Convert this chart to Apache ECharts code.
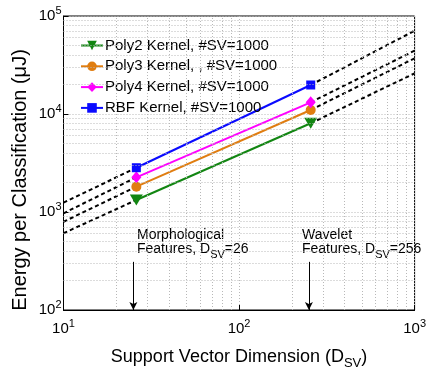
<!DOCTYPE html>
<html>
<head>
<meta charset="utf-8">
<script src="https://cdn.jsdelivr.net/npm/echarts@6/dist/echarts.min.js"></script>
<style>
html,body{margin:0;padding:0;background:#fff;}
#chart{width:429px;height:376px;}
</style>
</head>
<body>
<div id="chart"></div>
<script>
// ---- data ----
const dims = [26, 256];                 // support vector dimensions of the two feature sets
const seriesNames = ['Poly2 Kernel, #SV=1000', 'Poly3 Kernel, , #SV=1000', 'Poly4 Kernel, #SV=1000', 'RBF Kernel, #SV=1000'];
const poly2 = [1326, 8040];
const poly3 = [1813, 10990];
const poly4 = [2260, 13160];
const rbf   = [2830, 19770];
// dashed extrapolation end points (x = 10 and x = 1000)
const extX = [10, 1000];
const extLeft  = [607, 795, 970, 1245];      // poly2, poly3, poly4, rbf at x=10
const extRight = [26000, 37000, 44300, 70800]; // poly2, poly3, poly4, rbf at x=1000
// minor grid values
const xMinorGrid = [20,30,40,50,60,70,80,90,200,300,400,500,600,700,800,900];
const yMinorGrid = [200,300,400,500,600,700,800,900,2000,3000,4000,5000,6000,7000,8000,9000,20000,30000,40000,50000,60000,70000,80000,90000];
// annotation arrows
const arrowX = [25, 250];
const arrowTop = 310, arrowBottom = 100;

const FONT = 'Liberation Sans, Arial, Helvetica, sans-serif';
const colors = ['#128612', '#e07d10', '#ff00ff', '#0a0aff'];
const symbols = ['triangle', 'circle', 'diamond', 'rect'];
const symbolSizes = [[13, 11], 10, [10, 12], 9];
const symbolRotates = [180, 0, 0, 0];
const values = [poly2, poly3, poly4, rbf];

const gridLine = {color: '#b8b8b8', type: [1, 2], width: 1};

const series = [];
// helper for minor grid lines
series.push({
  type: 'line', data: [], silent: true, z: 0,
  markLine: {
    silent: true, symbol: 'none', animation: false,
    label: {show: false},
    lineStyle: gridLine,
    emphasis: {disabled: true},
    data: xMinorGrid.map(v => ({xAxis: v})).concat(yMinorGrid.map(v => ({yAxis: v})))
  }
});
// dashed extrapolations
values.forEach((vals, i) => {
  series.push({
    type: 'line', silent: true, z: 2,
    symbol: 'none',
    connectNulls: false,
    lineStyle: {color: '#000', width: 2, type: [4, 3]},
    data: [[extX[0], extLeft[i]], [dims[0], vals[0]], [100, '-'], [dims[1], vals[1]], [extX[1], extRight[i]]]
  });
});
// solid kernel series
values.forEach((vals, i) => {
  series.push({
    name: seriesNames[i], type: 'line', z: 3,
    symbol: symbols[i], symbolSize: symbolSizes[i], symbolRotate: symbolRotates[i],
    itemStyle: {color: colors[i]},
    lineStyle: {color: colors[i], width: 2},
    data: dims.map((d, k) => [d, vals[k]])
  });
});
// arrows
series.push({
  type: 'line', data: [], silent: true, z: 4,
  markLine: {
    silent: true, animation: false,
    symbol: ['none', 'arrow'], symbolSize: [6, 8],
    label: {show: false},
    lineStyle: {color: '#000', width: 1, type: 'solid'},
    emphasis: {disabled: true},
    data: arrowX.map(x => [{coord: [x, arrowTop]}, {coord: [x, arrowBottom]}])
  }
});

const tickFmt = v => '{b|10}{s|' + Math.round(Math.log10(v)) + '}';
const tickRich = {
  b: {fontSize: 15, fontFamily: FONT, color: '#000'},
  s: {fontSize: 11, fontFamily: FONT, color: '#000', padding: [0, 0, 10, 0]}
};

const chart = echarts.init(document.getElementById('chart'), null, {renderer: 'canvas'});
chart.setOption({
  animation: false,
  backgroundColor: '#fff',
  grid: {left: 63.5, right: 7, top: 16, bottom: 66, show: true, borderColor: '#000', borderWidth: 1, containLabel: false},
  legend: {
    data: seriesNames,
    orient: 'vertical', left: 80, top: 38, padding: 0,
    itemWidth: 22, itemHeight: 12, itemGap: 5.8,
    textStyle: {fontSize: 15, fontFamily: FONT, color: '#000', padding: [0, 0, 0, -3]}
  },
  xAxis: {
    type: 'log', logBase: 10, min: 10, max: 1000,
    name: 'Support Vector Dimension (D{s|SV})',
    nameLocation: 'middle', nameGap: 35,
    nameTextStyle: {fontSize: 18, fontFamily: FONT, color: '#000',
      rich: {s: {fontSize: 13, fontFamily: FONT, color: '#000', padding: [12, 0, 0, 0]}}},
    axisLine: {show: true, lineStyle: {color: '#000', width: 1}},
    axisTick: {show: true, inside: true, length: 5, lineStyle: {color: '#000'}},
    axisLabel: {formatter: tickFmt, rich: tickRich, margin: 8, showMaxLabel: true, color: '#000'},
    splitLine: {show: true, lineStyle: gridLine},
    minorTick: {show: false}
  },
  yAxis: {
    type: 'log', logBase: 10, min: 100, max: 100000,
    axisLine: {show: true, lineStyle: {color: '#000', width: 1}},
    axisTick: {show: true, inside: true, length: 5, lineStyle: {color: '#000'}},
    axisLabel: {formatter: tickFmt, rich: tickRich, margin: 2, color: '#000'},
    splitLine: {show: true, lineStyle: gridLine}
  },
  graphic: [
    {type: 'text', x: 20, y: 180, rotation: Math.PI / 2,
     style: {text: 'Energy per Classification (μJ)', font: '20px ' + FONT, fill: '#000', textAlign: 'center', textVerticalAlign: 'middle'}},
    {type: 'text', x: 137, y: 235,
     style: {text: 'Morphological', font: '14px ' + FONT, fill: '#000', textAlign: 'left', textVerticalAlign: 'middle'}},
    {type: 'text', x: 137, y: 249,
     style: {text: 'Features, D{s|SV}=26', font: '14px ' + FONT, fill: '#000', textAlign: 'left', textVerticalAlign: 'middle',
       rich: {s: {fontSize: 11, fontFamily: FONT, fill: '#000', padding: [12, 0, 0, 0]}}}},
    {type: 'text', x: 302, y: 235,
     style: {text: 'Wavelet', font: '14px ' + FONT, fill: '#000', textAlign: 'left', textVerticalAlign: 'middle'}},
    {type: 'text', x: 302, y: 249,
     style: {text: 'Features, D{s|SV}=256', font: '14px ' + FONT, fill: '#000', textAlign: 'left', textVerticalAlign: 'middle',
       rich: {s: {fontSize: 11, fontFamily: FONT, fill: '#000', padding: [12, 0, 0, 0]}}}}
  ],
  series: series
});
</script>
</body>
</html>
